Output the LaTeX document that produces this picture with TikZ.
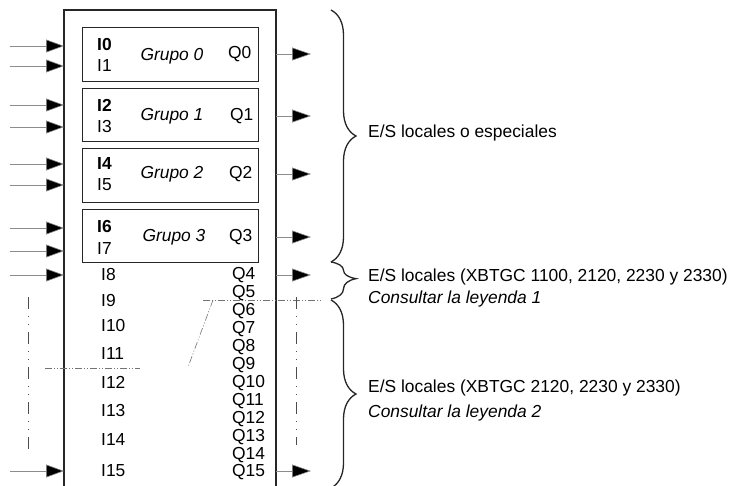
\documentclass[tikz,border=0pt]{standalone}
\usepackage{fontspec}
\setmainfont{Liberation Sans}
\usetikzlibrary{arrows.meta,decorations.pathreplacing}
\begin{document}
\begin{tikzpicture}[x=1pt,y=-1pt,
  every node/.style={font=\fontsize{17.4}{19}\selectfont, text=black, inner sep=0pt},
  frame/.style={draw=black!85, line width=1.4pt},
  grp/.style={draw=black!85, line width=1.4pt, minimum width=176pt, anchor=north west},
  lbl/.style={anchor=west},
  inarrow/.style={draw=black!45, line width=0.6pt, -{Triangle[length=18pt,width=13pt,fill=black]}},
  outarrow/.style={draw=black!45, line width=0.6pt, -{Triangle[length=19pt,width=13pt,fill=black]}},
  dashdot/.style={draw=black!55, line width=0.6pt, dash pattern=on 7pt off 2pt on 1pt off 2pt on 1pt off 2pt},
  vdashdot/.style={draw=black!70, line width=1pt, dash pattern=on 12pt off 7pt on 1pt off 7pt on 1pt off 7pt},
  bracestyle/.style={draw=black!85, line width=1.3pt, decorate, decoration={brace, amplitude=25pt}},
  note/.style={anchor=west, font=\fontsize{17.4}{19}\selectfont}]
\useasboundingbox (0,0) rectangle (733,485);

% main frame
\draw[frame] (64,495) -- (64,10) -- (276,10) -- (276,495);
\coordinate (mainL) at (64,0);
\coordinate (mainR) at (276,0);

% groups
\node[grp, minimum height=54pt] (g0) at (82,27) {};
\node[grp, minimum height=53pt] (g1) at (82,88) {};
\node[grp, minimum height=54pt] (g2) at (82,148) {};
\node[grp, minimum height=53pt] (g3) at (82,209) {};

\node[lbl, font=\fontsize{17.4}{19}\selectfont\bfseries] (i0) at (97,45) {I0};
\node[lbl] (i1) at (97,66) {I1};
\node[lbl, font=\fontsize{17.4}{19}\selectfont\bfseries] (i2) at (97,105) {I2};
\node[lbl] (i3) at (97,127) {I3};
\node[lbl, font=\fontsize{17.4}{19}\selectfont\bfseries] (i4) at (97,164) {I4};
\node[lbl] (i5) at (97,185) {I5};
\node[lbl, font=\fontsize{17.4}{19}\selectfont\bfseries] (i6) at (97,227) {I6};
\node[lbl] (i7) at (97,249) {I7};

\node[font=\fontsize{17.4}{19}\selectfont\itshape] (t0) at (172,56) {Grupo 0};
\node[font=\fontsize{17.4}{19}\selectfont\itshape] (t1) at (172,116) {Grupo 1};
\node[font=\fontsize{17.4}{19}\selectfont\itshape] (t2) at (172,174) {Grupo 2};
\node[font=\fontsize{17.4}{19}\selectfont\itshape] (t3) at (174,237) {Grupo 3};

\node[lbl] (q0) at (228,54) {Q0};
\node[lbl] (q1) at (230,116) {Q1};
\node[lbl] (q2) at (229,174) {Q2};
\node[lbl] (q3) at (229,237) {Q3};

% lower inputs
\node[lbl] (i8) at (101,275) {I8};
\node[lbl] (i9) at (101,301) {I9};
\node[lbl] (i10) at (101,326) {I10};
\node[lbl] (i11) at (101,354) {I11};
\node[lbl] (i12) at (101,382) {I12};
\node[lbl] (i13) at (101,411) {I13};
\node[lbl] (i14) at (101,440) {I14};
\node[lbl] (i15) at (101,471) {I15};

% lower outputs
\foreach \n/\y in {4/275,5/293,6/311,7/329,8/347,9/365,10/383,11/401,12/419,13/437,14/455,15/472}
  \node[lbl] (q\n) at (232,\y) {Q\n};

% input arrows
\foreach \k/\y in {a/46,b/66,c/105,d/127,e/164,f/185,g/228,h/251,i/275,j/471}{
  \coordinate (ins\k) at (10,\y);
  \draw[inarrow] (ins\k) -- (mainL |- ins\k);
}
% output arrows
\foreach \k/\y in {a/54,b/116,c/174,d/237,e/275,f/471}{
  \coordinate (outs\k) at (311,\y);
  \draw[outarrow] (mainR |- outs\k) -- (outs\k);
}

% dash-dot lines
\coordinate (h1a) at (203,300); \coordinate (h1b) at (322,300);
\draw[dashdot] (h1a) -- (h1b);
\coordinate (s1a) at (213,300); \coordinate (s1b) at (188,367);
\draw[dashdot] (s1a) -- (s1b);
\coordinate (h2a) at (45,368); \coordinate (h2b) at (140,368);
\draw[dashdot] (h2a) -- (h2b);
\coordinate (vla) at (28,297); \coordinate (vlb) at (28,450);
\draw[vdashdot] (vla) -- (vlb);
\coordinate (vra) at (296,297); \coordinate (vrb) at (296,445);
\draw[vdashdot] (vra) -- (vrb);

% braces
\coordinate (b1a) at (331,10); \coordinate (b1b) at (331,262);
\coordinate (b2a) at (331,262); \coordinate (b2b) at (331,299);
\coordinate (b3a) at (331,300); \coordinate (b3b) at (331,488);
\draw[bracestyle] (b1a) -- (b1b);
\draw[bracestyle, decoration={brace, amplitude=25pt, aspect=0.45}] (b2a) -- (b2b);
\draw[bracestyle, decoration={brace, amplitude=25pt, aspect=0.5}] (b3a) -- (b3b);

% notes
\node[note] (n1) at (368,133) {E/S locales o especiales};
\node[note] (n2) at (368,277) {E/S locales (XBTGC 1100, 2120, 2230 y 2330)};
\node[note, font=\fontsize{17.4}{19}\selectfont\itshape] (n2b) at (368,299) {Consultar la leyenda 1};
\node[note] (n3) at (368,388) {E/S locales (XBTGC 2120, 2230 y 2330)};
\node[note, font=\fontsize{17.4}{19}\selectfont\itshape] (n3b) at (368,413) {Consultar la leyenda 2};
\end{tikzpicture}
\end{document}
